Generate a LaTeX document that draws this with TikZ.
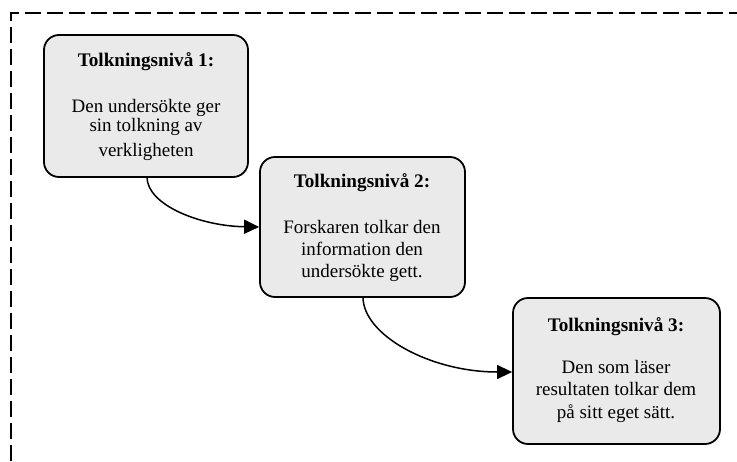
\documentclass[tikz,border=0pt]{standalone}
\usepackage{fontspec}
\setmainfont{Liberation Serif}
\usetikzlibrary{arrows.meta}
\begin{document}
\begin{tikzpicture}[x=1pt,y=-1pt,
  levelbox/.style={draw=black,line width=1.8pt,fill=boxgray,rounded corners=15pt,inner sep=0pt},
  ttl/.style={anchor=base,inner sep=0pt,font=\fontsize{19.2}{22}\selectfont\bfseries},
  bodytxt/.style={anchor=base,inner sep=0pt,font=\fontsize{19}{22}\selectfont},
  link/.style={line width=1.5pt,-{Triangle[length=15pt,width=14pt]}},
  frame/.style={line width=2pt,dash pattern=on 16pt off 6pt}]
\definecolor{boxgray}{HTML}{EAEAEA}
\useasboundingbox (0,0) rectangle (737,461);
\draw[frame] (11,461) -- (11,13) -- (737,13);
% boxes
\node[levelbox,minimum width=204pt,minimum height=142pt] (b1) at (146,106) {};
\node[levelbox,minimum width=205pt,minimum height=140pt] (b2) at (362.5,227) {};
\node[levelbox,minimum width=207pt,minimum height=146pt] (b3) at (616.5,371) {};
% texts
\node[ttl] (t1) at (146,66) {Tolkningsnivå 1:};
\node[bodytxt] (t1a) at (146,112) {Den undersökte ger};
\node[bodytxt] (t1b) at (146,131) {sin tolkning av};
\node[bodytxt] (t1c) at (146,156) {verkligheten};
\node[ttl] (t2) at (362,187) {Tolkningsnivå 2:};
\node[bodytxt] (t2a) at (362,233) {Forskaren tolkar den};
\node[bodytxt] (t2b) at (362,255) {information den};
\node[bodytxt] (t2c) at (362,277) {undersökte gett.};
\node[ttl] (t3) at (616,331) {Tolkningsnivå 3:};
\node[bodytxt] (t3a) at (616,373) {Den som läser};
\node[bodytxt] (t3b) at (616,395) {resultaten tolkar dem};
\node[bodytxt] (t3c) at (616,418) {på sitt eget sätt.};
% connectors
\coordinate (s1) at (147,177);
\coordinate (e1) at (b2.west |- 0,227);
\draw[link] (s1) .. controls (147,205) and (200,226) .. (e1);
\coordinate (s2) at (363,297);
\coordinate (e2) at (b3.west |- 0,372);
\draw[link] (s2) .. controls (363,335) and (430,372) .. (e2);
\end{tikzpicture}
\end{document}
